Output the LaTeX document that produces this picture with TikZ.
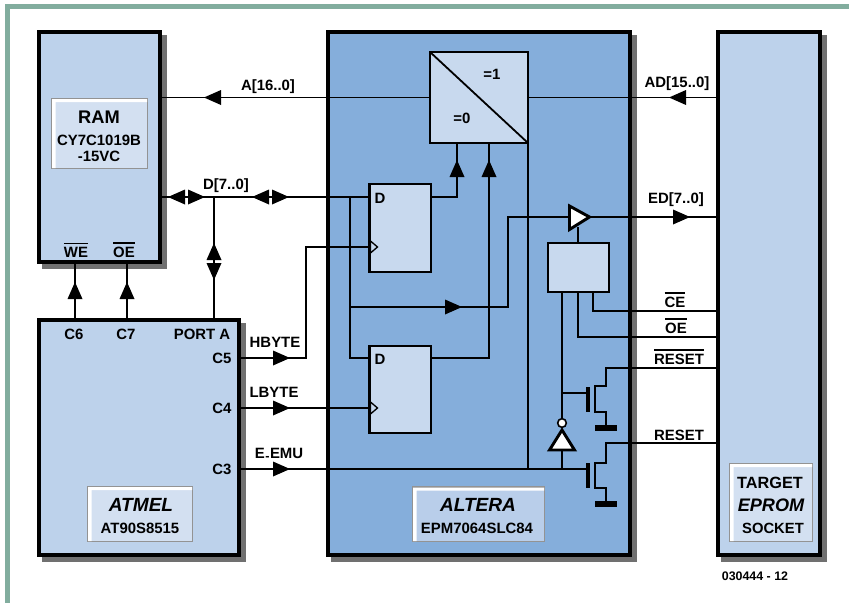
\documentclass[tikz,border=0pt]{standalone}
\usepackage{fontspec}
\setmainfont{Liberation Sans}
\definecolor{frameg}{HTML}{82AD9E}
\definecolor{shadowc}{HTML}{707070}
\definecolor{blk}{HTML}{BDD2EB}
\definecolor{alt}{HTML}{85AEDB}
\definecolor{inner}{HTML}{C8D9EE}
\definecolor{lblA}{HTML}{D3E0F1}
\definecolor{lblB}{HTML}{B9CEEA}
\newcommand\ovl[1]{\leavevmode\vbox{\hrule height 0.9pt\kern 2.2pt\hbox{#1}}}
\newcommand\fsz[1]{\fontsize{#1pt}{#1pt}\selectfont\bfseries}
% name, x1,y1,x2,y2 (centre line), style
\newcommand\bx[6]{\node[#6,minimum width={(#4-#2)*0.75pt},minimum height={(#5-#3)*0.75pt}] (#1) at ({(#2+#4)/2},{(#3+#5)/2}) {};}
% outer box with drop shadow
\newcommand\bigbx[6]{\fill[shadowc] (#2+5-1.75,#3+5-1.75) rectangle (#4+5+1.75,#5+5+1.75);\bx{#1}{#2}{#3}{#4}{#5}{#6}}
% label plate with highlight
\newcommand\plate[6]{\bx{#1}{#2}{#3}{#4}{#5}{plate,fill=#6}\fill[white] (#2+0.5,#3+0.5) rectangle (#4-0.5,#3+3.5) (#2+0.5,#3+0.5) rectangle (#2+4,#5-0.5);}
% arrowhead: tip x, tip y, direction angle
\newcommand\ah[3]{\fill[black,shift={(#1,#2)},rotate=#3] (0,0) -- (-17,-7.5) -- (-17,7.5) -- cycle;}
\tikzset{
  bigbox/.style={draw=black,line width=2.7pt,inner sep=0,outer sep=0,rectangle},
  smallbox/.style={draw=black,line width=1.9pt,inner sep=0,outer sep=0,rectangle,fill=inner},
  plate/.style={draw=gray!85,line width=0.8pt,inner sep=0,outer sep=0,rectangle},
  sig/.style={line width=1.35pt,draw=black,line cap=butt,line join=miter},
  gatebar/.style={line width=2.6pt,draw=black},
  gnd/.style={line width=5pt,draw=black},
  gate/.style={draw=black,fill=white,line width=2.2pt,line join=miter},
  txt/.style={anchor=base,inner sep=0,outer sep=0,font=\fsz{11.2}},
  x=0.75pt,y=-0.75pt
}
\begin{document}
\begin{tikzpicture}
\useasboundingbox (0,0) rectangle (849,603);
\fill[white] (0,0) rectangle (849,603);
\fill[frameg] (5,4) rectangle (849,9);
\fill[frameg] (5,4) rectangle (10,603);
% main blocks
\bigbx{ram}{39}{32}{160}{262}{bigbox,fill=blk}
\bigbx{atmel}{39}{320}{239}{555}{bigbox,fill=blk}
\bigbx{altera}{328}{32}{630}{555}{bigbox,fill=alt}
% helper points
\coordinate (busA) at (0,97.5);
\coordinate (busD) at (0,197);
\coordinate (busEn) at (0,469);
% connectors
\draw[sig] (ram.east |- busA) -- (altera.east |- busA) -- (716,97.5) coordinate (sockA);
\draw[sig] (ram.east |- busD) -- (369,197) coordinate (ffAd);
\coordinate (dj) at (214,197);
\draw[sig] (dj) -- (atmel.north -| dj);
\coordinate (c6) at (75,318);
\coordinate (c7) at (127,318);
\draw[sig] (c6) -- (ram.south -| c6);
\draw[sig] (c7) -- (ram.south -| c7);
\coordinate (hb) at (241,358);
\coordinate (ffAc) at (369,247);
\draw[sig] (hb) -- (306,358) -- (306,247) -- (ffAc);
\coordinate (lb) at (241,408);
\coordinate (ffBc) at (369,408);
\draw[sig] (lb) -- (ffBc);
\coordinate (ee) at (241,469);
\coordinate (m2g) at (588,469);
\draw[sig] (ee) -- (m2g);
\coordinate (dsplit) at (350,197);
\coordinate (ffBd) at (369,358);
\draw[sig] (dsplit) -- (350,358) -- (ffBd);
\coordinate (btap) at (350,307);
\coordinate (bufin) at (568,217);
\draw[sig] (btap) -- (508,307) -- (508,217) -- (bufin);
\coordinate (edout) at (716,217);
\draw[sig] (591,217) -- (edout);
% inner boxes
\bx{mux}{430}{52}{528}{143}{smallbox}
\bx{ffa}{369.5}{184}{431}{272}{smallbox}
\bx{ffb}{369.5}{346}{431}{433}{smallbox}
\bx{ctl}{548}{243}{609}{292}{smallbox}
\draw[sig] (mux.north west) -- (mux.south east);
\draw[sig] (mux.south east) -- (528,469);
\coordinate (qa) at (432,197);
\draw[sig] (qa) -- (457,197) -- (457,144);
\coordinate (qb) at (432,358);
\draw[sig] (qb) -- (489,358) -- (489,144);
% buffer and control logic
\coordinate (bufen) at (578,227);
\draw[sig] (bufen) -- (ctl.north -| bufen);
\draw[gate] (569.5,206) -- (589.5,217) -- (569.5,229.5) -- cycle;
\coordinate (ceb) at (593,293);
\coordinate (ceo) at (716,311);
\draw[sig] (ceb) -- (593,311) -- (ceo);
\coordinate (oeb) at (578,293);
\coordinate (oeo) at (716,337);
\draw[sig] (oeb) -- (578,337) -- (oeo);
\coordinate (rb) at (562,293);
% inverter and transistors
\node[circle,draw=black,fill=white,line width=1.2pt,minimum size=6.5pt,inner sep=0] (inv) at (562,423) {};
\draw[sig] (rb) -- (inv.north);
\draw[gate] (562,430) -- (574.5,450) -- (549.5,450) -- cycle;
\coordinate (invb) at (562,451);
\draw[sig] (invb) -- (562,469);
\coordinate (m1g) at (588,393);
\draw[sig] (562,393) -- (m1g);
\draw[gatebar] (588,387) -- (588,412);
\draw[gatebar] (588,463) -- (588,488);
\coordinate (rsto) at (716,368);
\coordinate (rst2o) at (716,443);
\draw[sig] (rsto) -- (606,368) -- (606,386) -- (595,386) -- (595,412) -- (606,412) -- (606,428);
\draw[sig] (rst2o) -- (606,443) -- (606,463) -- (595,463) -- (595,488) -- (606,488) -- (606,504);
\draw[gnd] (595,428) -- (617,428);
\draw[gnd] (595,504) -- (617,504);
% clock markers
\draw[black,fill=inner,line width=1pt,line join=miter] (370.5,241) -- (377.5,247) -- (370.5,253) -- cycle;
\draw[black,fill=inner,line width=1pt,line join=miter] (370.5,402) -- (377.5,408) -- (370.5,414) -- cycle;
% socket
\bigbx{socket}{718}{32}{820}{555}{bigbox,fill=blk}
% arrowheads
\ah{204}{97.5}{180}
\ah{669}{97.5}{180}
\ah{168}{197}{180}\ah{205}{197}{0}
\ah{252}{197}{180}\ah{289}{197}{0}
\ah{214}{243}{90}\ah{214}{280}{270}
\ah{75}{282}{90}\ah{127}{282}{90}
\ah{290}{358}{0}\ah{290}{408}{0}\ah{290}{469}{0}
\ah{462}{307}{0}
\ah{690}{217}{0}
\ah{457}{160}{90}\ah{489}{160}{90}
% plates
\plate{pram}{51.5}{98.5}{147.5}{168.5}{lblA}
\plate{patm}{87.5}{486.5}{192.5}{541.5}{lblA}
\plate{palt}{412.5}{487}{544.5}{541.5}{lblB}
\plate{ptgt}{729.5}{463.5}{812.5}{541.5}{lblA}
% text
\node[txt,font=\fsz{13.7}] (tRam) at (99,123) {RAM};
\node[txt] (tCy) at (99,145) {CY7C1019B};
\node[txt] (t15) at (99,161) {-15VC};
\node[txt] (tWe) at (76,257) {\ovl{WE}};
\node[txt] (tOe) at (124,257) {\ovl{OE}};
\node[txt] (tC6) at (74,339) {C6};
\node[txt] (tC7) at (126,339) {C7};
\node[txt] (tPa) at (202,339) {PORT A};
\node[txt] (tC5) at (222,363) {C5};
\node[txt] (tC4) at (222,413) {C4};
\node[txt] (tC3) at (222,474) {C3};
\node[txt] (tHb) at (275,347) {HBYTE};
\node[txt] (tLb) at (274,397) {LBYTE};
\node[txt] (tEe) at (279,458) {E\kern0.4pt\raisebox{-1.6pt}{\fontsize{9.5pt}{9.5pt}\selectfont -}\kern0.4pt EMU};
\node[txt] (tA) at (268,90) {A[16..0]};
\node[txt] (tD) at (226,189) {D[7..0]};
\node[txt] (tAd) at (677,87) {AD[15..0]};
\node[txt] (tEd) at (676,203) {ED[7..0]};
\node[txt] (tCe) at (675,307) {\ovl{CE}};
\node[txt] (tOe2) at (676,333) {\ovl{OE}};
\node[txt] (tRb) at (679,364) {\ovl{RESET}};
\node[txt] (tR) at (679,440) {RESET};
\node[txt] (t1) at (492,79) {=1};
\node[txt] (t0) at (462,123) {=0};
\node[txt] (tDa) at (380,203) {D};
\node[txt] (tDb) at (380,364) {D};
\node[txt,font=\fsz{14.3}\itshape] (tAtm) at (141,511) {ATMEL};
\node[txt] (tAt) at (140,533) {AT90S8515};
\node[txt,font=\fsz{14.3}\itshape] (tAlt) at (478,511) {ALTERA};
\node[txt] (tEpm) at (477,533) {EPM7064SLC84};
\node[txt,font=\fsz{12.2}] (tTg) at (770,488) {TARGET};
\node[txt,font=\fsz{13.6}\itshape] (tEp) at (771,511) {EPROM};
\node[txt,font=\fsz{11.1}] (tSo) at (773,533) {SOCKET};
\node[txt,font=\fsz{9.3}] (tNo) at (755,580) {030444 - 12};
\end{tikzpicture}
\end{document}
